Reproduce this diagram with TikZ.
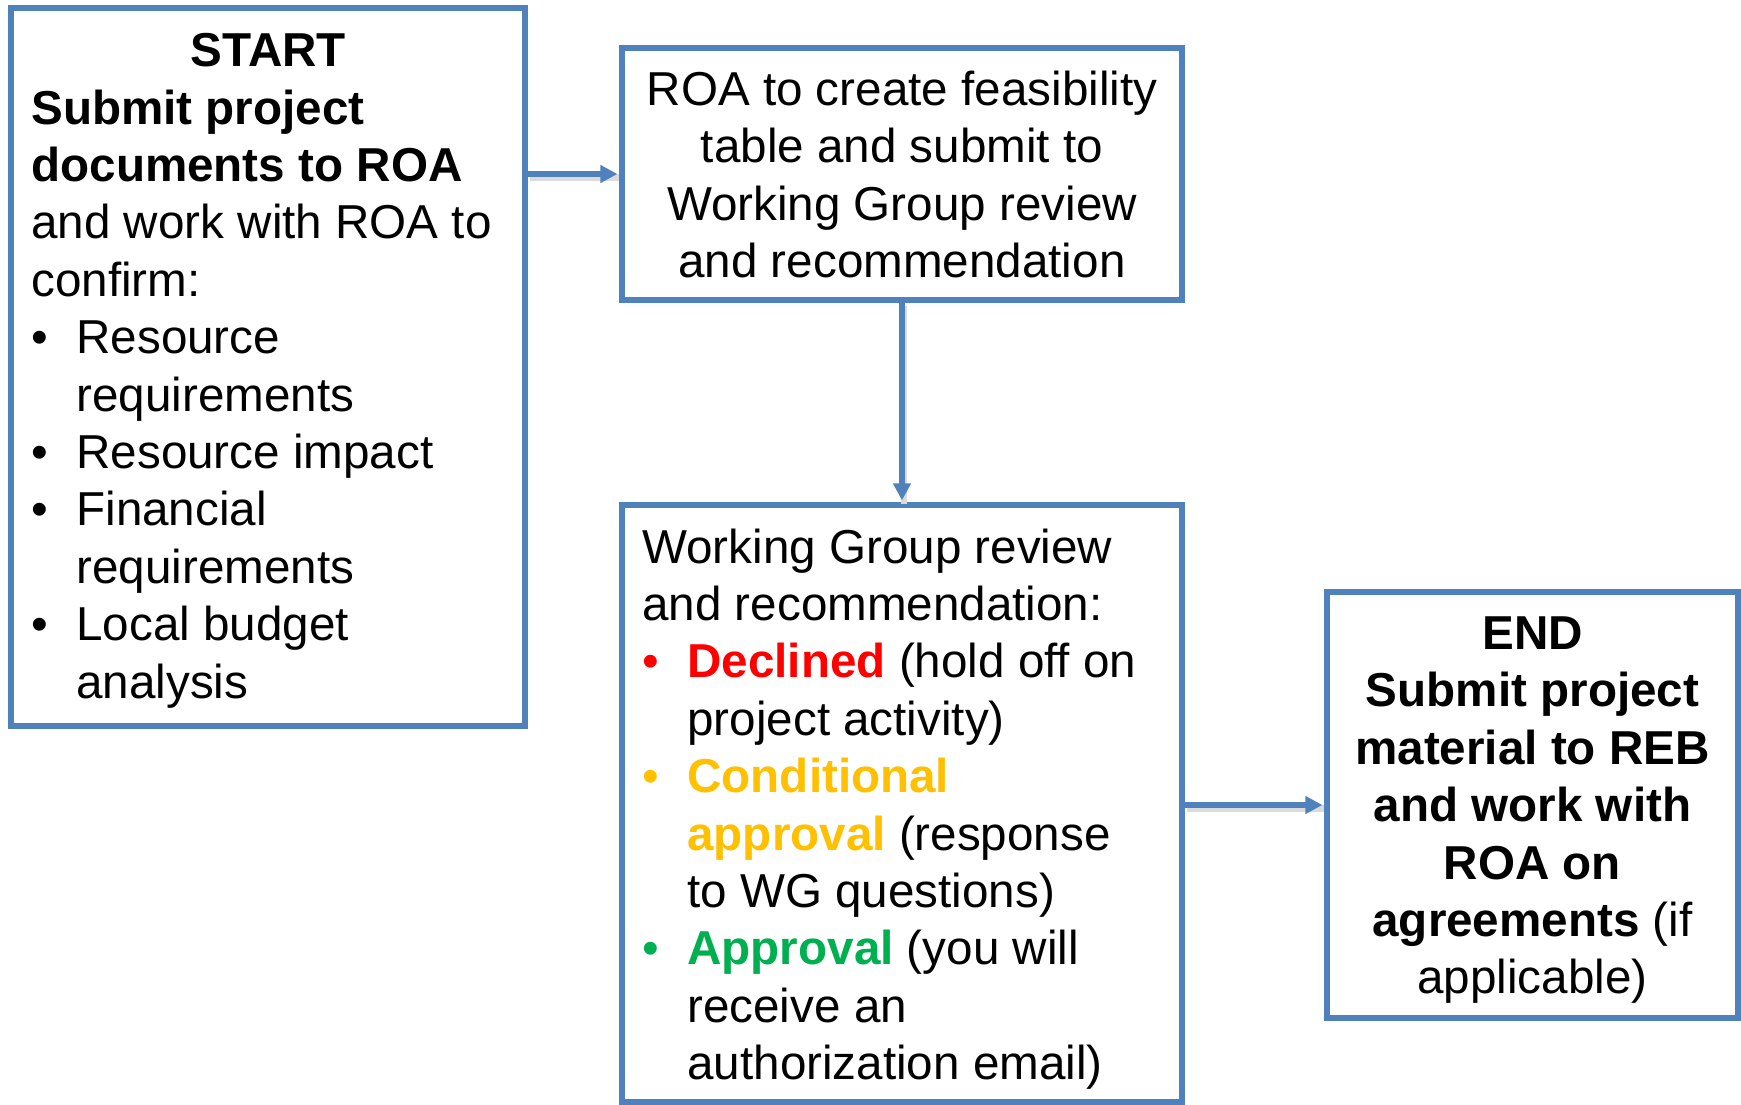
\documentclass[tikz,border=0pt]{standalone}
\usepackage{fontspec}
\setmainfont{Liberation Sans}
\usetikzlibrary{arrows.meta}
\definecolor{boxblue}{HTML}{4F81BD}
\definecolor{decl}{HTML}{FF0000}
\definecolor{cond}{HTML}{FFC000}
\definecolor{appr}{HTML}{00B050}
\newcommand\blt[1][black]{\makebox[22.5pt][l]{\textcolor{#1}{\textbullet}}}
\newcommand\ind{\hspace*{22.5pt}}
\begin{document}
\begin{tikzpicture}[x=0.5pt,y=-0.5pt,
  box/.style={draw=boxblue, line width=2.6pt, rectangle, inner sep=0pt},
  txt/.style={inner sep=0pt, font=\fontsize{23.8pt}{28.7pt}\selectfont},
  conn/.style={draw=boxblue, line width=2.6pt, shorten >=1pt, -{Triangle[length=8.5pt,width=8.5pt]}},
  shadowline/.style={draw=black!14, line width=3.4pt, shorten >=1pt, transform canvas={shift={(1pt,-1.6pt)}}}]
\useasboundingbox (0,0) rectangle (1741,1104);
\fill[white] (0,0) rectangle (1741,1104);

% boxes
\node[box, minimum width=257pt, minimum height=359pt] (b1) at (268,367) {};
\node[box, minimum width=280pt, minimum height=126pt] (b2) at (902,174) {};
\node[box, minimum width=280pt, minimum height=298.5pt] (b3) at (902,803.5) {};
\node[box, minimum width=205.5pt, minimum height=213pt] (b4) at (1532.5,805) {};

% texts
\node[txt, anchor=base west] (t1) at (31,66.6) {\begin{minipage}[t]{237pt}
\makebox[\linewidth]{\textbf{START}}\\
\textbf{Submit project}\\
\textbf{documents to ROA}\\
and work with ROA to\\
confirm:\\
\blt Resource\\
\ind requirements\\
\blt Resource impact\\
\blt Financial\\
\ind requirements\\
\blt Local budget\\
\ind analysis
\end{minipage}};

\node[txt, anchor=base] (t2) at (902,105.5) {\begin{minipage}[t]{270pt}\centering
ROA to create feasibility\\
table and submit to\\
Working Group review\\
and recommendation
\end{minipage}};

\node[txt, anchor=base west] (t3) at (642,563) {\begin{minipage}[t]{270pt}
Working Group review\\
and recommendation:\\
\blt[decl]\textcolor{decl}{\textbf{Declined}} (hold off on\\
\ind project activity)\\
\blt[cond]\textcolor{cond}{\textbf{Conditional}}\\
\ind\textcolor{cond}{\textbf{approval}} (response\\
\ind to WG questions)\\
\blt[appr]\textcolor{appr}{\textbf{Approval}} (you will\\
\ind receive an\\
\ind authorization email)
\end{minipage}};

\node[txt, anchor=base] (t4) at (1532.5,649.5) {\begin{minipage}[t]{200pt}\centering
\textbf{END}\\
\textbf{Submit project}\\
\textbf{material to REB}\\
\textbf{and work with}\\
\textbf{ROA on}\\
\textbf{agreements} (if\\
applicable)
\end{minipage}};

% connector shadows
\draw[shadowline] (b1.east |- b2.west) -- (b2.west);
\draw[shadowline] (b2.south) -- (b3.north);
\draw[shadowline] (b3.east |- b4.west) -- (b4.west);
% connectors
\draw[conn] (b1.east |- b2.west) -- (b2.west);
\draw[conn] (b2.south) -- (b3.north);
\draw[conn] (b3.east |- b4.west) -- (b4.west);
\end{tikzpicture}
\end{document}
